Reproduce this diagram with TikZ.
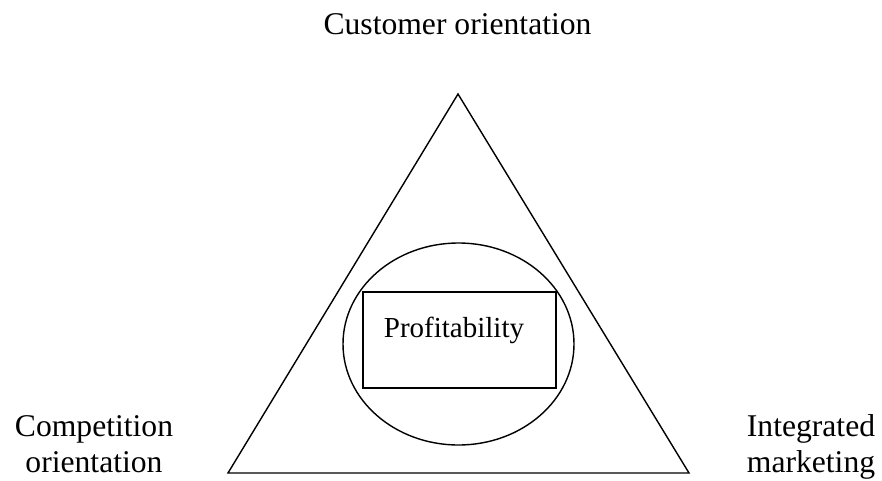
\documentclass[tikz,border=0pt]{standalone}
\usepackage{fontspec}
\setmainfont{Liberation Serif}
\usetikzlibrary{shapes.geometric}
\tikzset{
  corner/.style={align=center,font=\fontsize{18}{20}\selectfont},
}
\begin{document}
\begin{tikzpicture}[line width=0.8pt]

      \useasboundingbox (0,0) rectangle (17.64,9.6);

      \coordinate (top) at (9.16,7.72);
      \coordinate (left) at (4.56,0.14);
      \coordinate (right) at (13.78,0.14);
      \draw[line join=miter] (top) -- (left) -- (right) -- cycle;

      \node[ellipse,draw=black,inner sep=0pt,minimum width=4.62cm,minimum height=4.04cm] (oval) at (9.17,2.72){};
      \node[rectangle,draw=black,inner sep=0pt,minimum width=3.86cm,minimum height=1.92cm] (box) at (9.19,2.80){};
      \node[font=\fontsize{16.5}{18}\selectfont,anchor=base] (profit) at (9.08,2.86){Profitability};

      \node[corner,anchor=base] (customer) at (9.15,8.92){Customer orientation};
      \node[corner] (competition) at (1.88,0.65){Competition\strut\\orientation\strut};
      \node[corner] (integrated) at (16.22,0.65){Integrated\strut\\marketing\strut};

    \end{tikzpicture}
\end{document}
